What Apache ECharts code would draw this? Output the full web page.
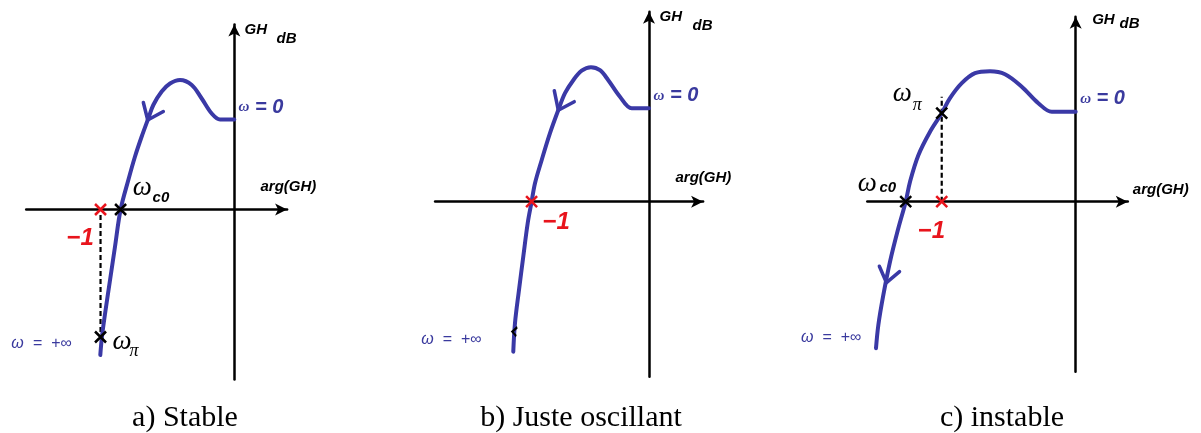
<!DOCTYPE html>
<html>
<head>
<meta charset="utf-8">
<script src="https://cdn.jsdelivr.net/npm/echarts@6/dist/echarts.min.js"></script>
<style>
  html, body { margin: 0; padding: 0; background: #fff; }
  #chart { width: 1201px; height: 433px; }
</style>
</head>
<body>
<div id="chart"></div>
<script>
// Black–Nichols loci: [phase (deg), gain (dB)], from ω = 0 to ω = +∞
const lociStable = [
  [0, 18], [-19.2, 18], [-30.4, 19.2], [-43.9, 22.2], [-57.3, 24.9], [-73.1, 25.9],
  [-86.5, 25.2], [-97.7, 23.6], [-109, 20.9], [-116, 18.1], [-124.6, 14.6], [-133.6, 10.6],
  [-142.6, 5.9], [-153, 0], [-160.5, -7.4], [-167.2, -14.1], [-173.9, -20.8], [-178.2, -25.6],
  [-180.3, -29.1]
];
const lociCritical = [
  [0, 18.7], [-26.5, 18.7], [-44.5, 21], [-62.4, 24.3], [-75.2, 26.3], [-89, 26.9],
  [-103.2, 26.2], [-116.1, 24.3], [-128.8, 21.7], [-139.1, 18.3], [-151.8, 13.7], [-164.6, 8.3],
  [-174.8, 3.7], [-180, 0], [-186, -4.3], [-192.8, -11], [-199.4, -17.7], [-205.5, -24.3],
  [-208.1, -30]
];
const lociUnstable = [
  [0, 18], [-32.2, 18], [-50.2, 19.7], [-72.5, 23], [-95, 25.5], [-115.1, 26.1],
  [-135.3, 25.7], [-153.1, 23.7], [-168.9, 20.7], [-180, 17.7], [-195.7, 14], [-211.4, 9.3],
  [-222.6, 4], [-228.4, 0], [-238.3, -5.3], [-249.5, -12], [-258.5, -18.7], [-265.2, -24.7],
  [-268.3, -29.3]
];

// direction-of-travel arrowheads (arm, tip on the locus, arm)
const arrowStable = [[-122.4, 21.4], [-116.5, 17.9], [-95.5, 19.6]];
const arrowCritical = [[-145.2, 22.2], [-139.1, 18.3], [-114.6, 20.0]];
const arrowUnstable = [[-263.8, -12.9], [-254.2, -16.2], [-236.7, -14.0]];

// critical point −1 : phase −180°, gain 0 dB
const criticalPoint = [-180, 0];

// ωc0 (gain crossover) and ωπ (phase crossover) on each locus
const crossoverStable = [-153, 0];
const phaseCrossStable = [-180, -25.5];
const phaseCrossCritical = [-205.8, -26];
const crossoverUnstable = [-228.4, 0];
const phaseCrossUnstable = [-180, 17.7];

// dashed projections between −1 and ωπ
const dashStable = [[-180, -1.1], [-180, -25.1]];
const dashUnstable = [[-180, 0], [-180, 21]];

const captions = ['a) Stable', 'b) Juste oscillant', 'c) instable'];

const BLUE = '#3a39a6';
const LABEL_BLUE = '#3a3a9e';
const RED = '#e8141c';
const SANS = '"Liberation Sans", Arial, sans-serif';
const SERIF = '"Liberation Serif", "Times New Roman", serif';

const panels = [
  { grid: { left: 26.2, top: 24.5, width: 260.9, height: 355 }, phase: [-280, 71], gain: [-34, 37] },
  { grid: { left: 435.1, top: 11.7, width: 268, height: 365 }, phase: [-328, 83], gain: [-35, 38] },
  { grid: { left: 867.3, top: 16.7, width: 260.5, height: 355 }, phase: [-280, 70], gain: [-34, 37] }
];
const captionX = [185, 581, 1002];

const chart = echarts.init(document.getElementById('chart'), null, { renderer: 'canvas' });

const axisLineStyle = {
  onZero: true,
  symbol: ['none', 'arrow'],
  symbolSize: [9, 12],
  lineStyle: { color: '#000', width: 2.5 }
};

const grids = panels.map(p => Object.assign({ containLabel: false }, p.grid));
const xAxes = panels.map((p, i) => ({
  gridIndex: i, type: 'value', min: p.phase[0], max: p.phase[1],
  axisLine: axisLineStyle, axisTick: { show: false }, axisLabel: { show: false },
  splitLine: { show: false }
}));
const yAxes = panels.map((p, i) => ({
  gridIndex: i, type: 'value', min: p.gain[0], max: p.gain[1],
  axisLine: axisLineStyle, axisTick: { show: false }, axisLabel: { show: false },
  splitLine: { show: false }
}));

function locus(i, data) {
  return {
    type: 'line', xAxisIndex: i, yAxisIndex: i, data, smooth: 0.35,
    symbol: 'none', silent: true, z: 3,
    lineStyle: { color: BLUE, width: 4, cap: 'round', join: 'round' }
  };
}
function arrowhead(i, data) {
  return {
    type: 'line', xAxisIndex: i, yAxisIndex: i, data, symbol: 'none', silent: true, z: 3,
    lineStyle: { color: BLUE, width: 3.5, cap: 'round', join: 'round' }
  };
}
function dashed(i, data) {
  return {
    type: 'line', xAxisIndex: i, yAxisIndex: i, data, symbol: 'none', silent: true, z: 2,
    lineStyle: { color: '#000', width: 2.2, type: [5, 3] }
  };
}
const CROSS = 'path://M0,0L10,10M10,0L0,10';
function crosses(i, data, color, size) {
  return {
    type: 'scatter', xAxisIndex: i, yAxisIndex: i, data, symbol: CROSS,
    symbolSize: size || 11, silent: true, z: 5, clip: false,
    itemStyle: { color: 'rgba(0,0,0,0)', borderColor: color, borderWidth: 2.5, opacity: 1 }
  };
}
function note(coord, text, style) {
  return {
    value: coord,
    label: Object.assign({
      show: true, position: [0, 0], align: 'left', verticalAlign: 'middle', formatter: text,
      fontFamily: SANS, fontSize: 15, fontStyle: 'italic', fontWeight: 'bold', color: '#000',
      textBorderWidth: 0, textBorderColor: 'transparent', opacity: 1
    }, style)
  };
}
function notes(i, items) {
  return {
    type: 'scatter', xAxisIndex: i, yAxisIndex: i, data: items, symbolSize: 1,
    itemStyle: { color: 'rgba(0,0,0,0)', opacity: 1 }, silent: true, clip: false, z: 6
  };
}

const omegaBig = { fontFamily: SERIF, fontSize: 27, fontWeight: 'normal', fontStyle: 'italic' };
const subBold = { fontFamily: SANS, fontSize: 15, fontWeight: 'bold', fontStyle: 'italic' };
const subPi = { fontFamily: SERIF, fontSize: 18, fontWeight: 'normal', fontStyle: 'italic' };
const minusOne = { fontFamily: SANS, fontSize: 24, fontWeight: 'bold', fontStyle: 'italic', color: RED };
const startLbl = {
  formatter: '{w|ω}{t| = 0}',
  rich: {
    w: { fontFamily: SERIF, fontSize: 15, fontStyle: 'italic', color: LABEL_BLUE },
    t: { fontFamily: SANS, fontSize: 20, fontStyle: 'italic', color: LABEL_BLUE }
  }
};
const endLbl = { fontFamily: SANS, fontSize: 16, fontWeight: 'normal', fontStyle: 'italic', color: LABEL_BLUE, align: 'right' };

const series = [
  // a) stable
  locus(0, lociStable), arrowhead(0, arrowStable), dashed(0, dashStable),
  crosses(0, [criticalPoint], RED), crosses(0, [crossoverStable, phaseCrossStable], '#000'),
  notes(0, [
    note([14.4, 35.9], 'GH'), note([57.5, 34.1], 'dB'), note([35.9, 4.5], 'arg(GH)'),
    note([6.3, 20.3], '', startLbl),
    note([-135.9, 4.2], 'ω', omegaBig), note([-109.3, 2.2], 'c0', subBold),
    note([-225.1, -5.9], '−1', minusOne),
    note([-163.2, -26.5], 'ω', omegaBig), note([-140.3, -28.5], 'π', subPi),
    note([-218.2, -26.9], 'ω  =  +∞', endLbl)
  ]),
  // b) juste oscillant
  locus(1, lociCritical), arrowhead(1, arrowCritical),
  crosses(1, [criticalPoint], RED),
  {
    type: 'scatter', xAxisIndex: 1, yAxisIndex: 1, data: [phaseCrossCritical],
    symbol: 'path://M5,0L0,5L4,10', symbolSize: [5, 9], silent: true, z: 5,
    itemStyle: { color: 'rgba(0,0,0,0)', borderColor: '#000', borderWidth: 2, opacity: 1 }
  },
  notes(1, [
    note([16.9, 36.9], 'GH'), note([67.5, 35.1], 'dB'), note([41.4, 4.6], 'arg(GH)'),
    note([7.7, 21.1], '', startLbl),
    note([-162.6, -4.2], '−1', minusOne),
    note([-256.1, -27.7], 'ω  =  +∞', endLbl)
  ]),
  // c) instable
  locus(2, lociUnstable), arrowhead(2, arrowUnstable), dashed(2, dashUnstable),
  crosses(2, [criticalPoint], RED), crosses(2, [crossoverUnstable, phaseCrossUnstable], '#000'),
  notes(2, [
    note([22.8, 36.3], 'GH'), note([59.5, 35.5], 'dB'), note([77.4, 2.2], 'arg(GH)'),
    note([6.7, 20.5], '', startLbl),
    note([-245.2, 21.5], 'ω', omegaBig), note([-218.2, 19.2], 'π', subPi),
    note([-292.1, 3.5], 'ω', omegaBig), note([-263, 2.6], 'c0', subBold),
    note([-211.4, -6.0], '−1', minusOne),
    note([-287.5, -27.3], 'ω  =  +∞', endLbl)
  ])
];

const graphic = captions.map((t, i) => ({
  type: 'text', x: captionX[i], y: 418, silent: true,
  style: {
    text: t, fill: '#000', font: '30px "Liberation Serif", "Times New Roman", serif',
    align: 'center', verticalAlign: 'middle', textAlign: 'center', textVerticalAlign: 'middle'
  }
}));

chart.setOption({
  backgroundColor: '#fff',
  animation: false,
  grid: grids,
  xAxis: xAxes,
  yAxis: yAxes,
  series,
  graphic
});
</script>
</body>
</html>
